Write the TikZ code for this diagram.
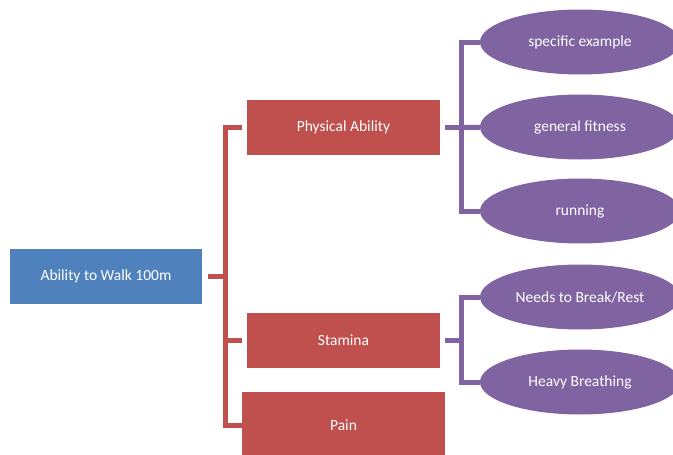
\documentclass[tikz,border=0pt]{standalone}
\usepackage{fontspec}
\setmainfont{Carlito}
\usetikzlibrary{shapes.geometric}

\definecolor{rootblue}{HTML}{4F81BD}
\definecolor{boxred}{HTML}{C0504D}
\definecolor{leafpurple}{HTML}{8064A2}

\begin{document}
\begin{tikzpicture}[x=1pt,y=-1pt,
    boxtext/.style={text=white,inner sep=0pt,font=\fontsize{15.5}{18}\selectfont},
    rootbox/.style={boxtext,rectangle,fill=rootblue,minimum width=192pt,minimum height=55pt},
    redbox/.style={boxtext,rectangle,fill=boxred,minimum width=193pt,minimum height=55pt},
    leaf/.style={boxtext,ellipse,fill=leafpurple,minimum width=200pt,minimum height=65pt},
    redline/.style={draw=boxred,line width=5pt},
    purpleline/.style={draw=leafpurple,line width=5pt}]

        \clip (0,0) rectangle (673,455);

        \node[rootbox] (0) at (106,276) {Ability to Walk 100m};

        \begin{scope}[every node/.style={redbox}]
          \node (1) at (343.5,127.5) {Physical Ability};
          \node (2) at (343.5,340)   {Stamina};
          \node[minimum width=203pt,minimum height=66pt] (3) at (343.5,425) {Pain};
        \end{scope}

        \begin{scope}[every node/.style={leaf}]
          \node (4) at (580,42)  {specific example};
          \node (5) at (580,127) {general fitness};
          \node (6) at (580,211) {running};
          \node (7) at (580,297) {Needs to Break/Rest};
          \node (8) at (580,382) {Heavy Breathing};
        \end{scope}

        \coordinate (r)  at (225,276);
        \coordinate (p1) at (461.5,127.5);
        \coordinate (p2) at (461.5,340);

        % red bracket
        \draw[redline,shorten <=6pt] (0) -- (r);
        \draw[redline,shorten >=5pt] (r) |- (1);
        \draw[redline,shorten >=5pt] (r) |- (2);
        \draw[redline] (r) |- (3);

        % purple brackets
        \draw[purpleline,shorten <=5pt] (1) -- (p1);
        \draw[purpleline] (p1) |- (4);
        \draw[purpleline] (p1) -- (5);
        \draw[purpleline] (p1) |- (6);

        \draw[purpleline,shorten <=5pt] (2) -- (p2);
        \draw[purpleline] (p2) |- (7);
        \draw[purpleline] (p2) |- (8);

      \end{tikzpicture}
\end{document}
